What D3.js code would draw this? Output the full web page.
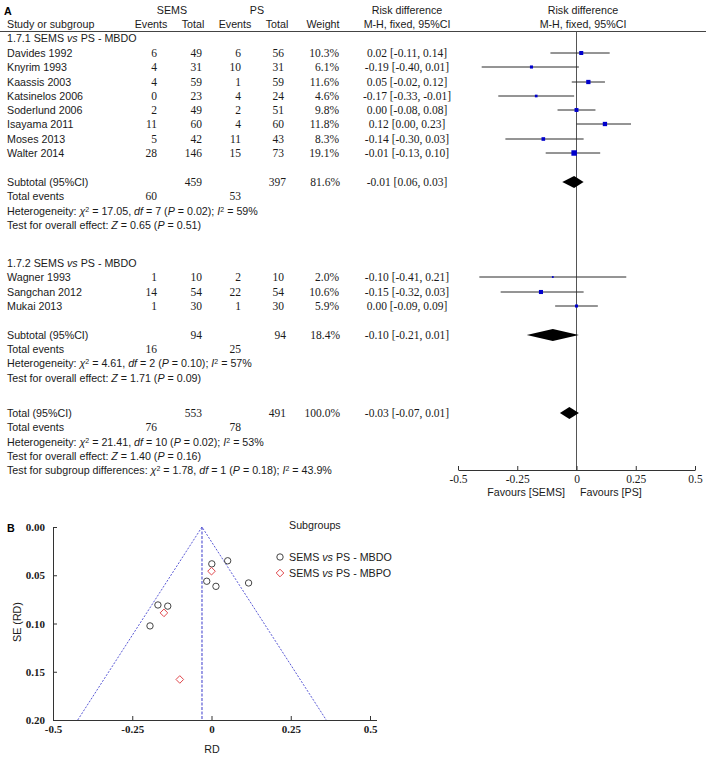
<!DOCTYPE html>
<html><head><meta charset="utf-8">
<script src="https://cdn.jsdelivr.net/npm/d3@7"></script>
<style>
body{margin:0;background:#fff}
svg{display:block}
.sans{font-family:"Liberation Sans",Arial,sans-serif;font-size:10.7px;fill:#1a1a1a}
.num{font-family:"Liberation Serif","Times New Roman",serif;font-size:11.5px;fill:#1a1a1a}
</style></head>
<body>
<svg id="c" width="708" height="758"></svg>
<script>
// ---------- DATA ----------
const studies1 = ["Davides 1992","Knyrim 1993","Kaassis 2003","Katsinelos 2006","Soderlund 2006","Isayama 2011","Moses 2013","Walter 2014"];
const semsEvents1 = [6,4,4,0,2,11,5,28];
const semsTotal1  = [49,31,59,23,49,60,42,146];
const psEvents1   = [6,10,1,4,2,4,11,15];
const psTotal1    = [56,31,59,24,51,60,43,73];
const weight1     = [10.3,6.1,11.6,4.6,9.8,11.8,8.3,19.1];
const rd1 = [0.02,-0.19,0.05,-0.17,0.00,0.12,-0.14,-0.01];
const lo1 = [-0.11,-0.40,-0.02,-0.33,-0.08,0.00,-0.30,-0.13];
const hi1 = [0.14,0.01,0.12,-0.01,0.08,0.23,0.03,0.10];

const studies2 = ["Wagner 1993","Sangchan 2012","Mukai 2013"];
const semsEvents2 = [1,14,1];
const semsTotal2  = [10,54,30];
const psEvents2   = [2,22,1];
const psTotal2    = [10,54,30];
const weight2     = [2.0,10.6,5.9];
const rd2 = [-0.10,-0.15,0.00];
const lo2 = [-0.41,-0.32,-0.09];
const hi2 = [0.21,0.03,0.09];

// subtotals: group1, group2, overall
const pooledLabels = ["Subtotal (95%CI)","Subtotal (95%CI)","Total (95%CI)"];
const pooledSemsTotal = [459,94,553];
const pooledPsTotal   = [397,94,491];
const pooledWeight    = ["81.6%","18.4%","100.0%"];
const pooledSemsEvents = [60,16,76];
const pooledPsEvents   = [53,25,78];
const pooledRD = [-0.01,-0.10,-0.03];
const pooledLo = [-0.06,-0.21,-0.07];
const pooledHi = [0.03,0.01,0.01];
const pooledText = ["-0.01 [0.06, 0.03]","-0.10 [-0.21, 0.01]","-0.03 [-0.07, 0.01]"];
const hetChi = ["17.05","4.61","21.41"];
const hetDf  = ["7","2","10"];
const hetP   = ["0.02","0.10","0.02"];
const hetI2  = ["59%","57%","53%"];
const zVal   = ["0.65","1.71","1.40"];
const zP     = ["0.51","0.09","0.16"];
const subgroupDiff = {chi:"1.78", df:"1", p:"0.18", i2:"43.9%"};

const forestTicks = [-0.5,-0.25,0,0.25,0.5];

// funnel plot
const funnelRD1 = [0.014,-0.194,0.051,-0.169,0.001,0.117,-0.138,-0.015];
const funnelSE1 = [0.0615,0.1025,0.035,0.0808,0.0382,0.058,0.082,0.0562];
const funnelRD2 = [-0.100,-0.150,0.000];
const funnelSE2 = [0.158,0.0890,0.0458];
const funnelPooled = -0.03;
const funnelXTicks = [-0.5,-0.25,0,0.25,0.5];
const funnelYTicks = [0,0.05,0.10,0.15,0.20];
const legendLabels = ["MBDO","MBPO"];

// ---------- DRAW ----------
const svg = d3.select("#c");
const fmtTick = d => d===0 ? "0" : String(d);

function rich(g, x, y, segs, anchor){
  const t = g.append("text").attr("class","sans").attr("x",x).attr("y",y);
  if(anchor) t.attr("text-anchor",anchor);
  segs.forEach(s=>{
    if(typeof s === "string"){ t.append("tspan").text(s); return; }
    const ts = t.append("tspan").text(s.t);
    if(s.i) ts.attr("font-style","italic");
    if(s.sup) ts.attr("font-size","7px").attr("baseline-shift","super");
  });
  return t;
}
function txt(cls,x,y,s,anchor,extra){
  const t = svg.append("text").attr("class",cls).attr("x",x).attr("y",y).text(s);
  if(anchor) t.attr("text-anchor",anchor);
  if(extra) extra(t);
  return t;
}

const B = 4; // baseline offset from visual centre
// column positions
const cEv1 = 157, cTo1 = 202, cEv2 = 241, cTo2 = 284, cW = 339, cRD = 407;
const x = d3.scaleLinear().domain([-0.5,0.5]).range([458,695]);
const sz = d3.scaleSqrt().domain([0,20]).range([0,5.6]);

// Header
txt("sans",4,15,"A",null,t=>t.attr("font-weight","bold").attr("font-size","12.5px").style("fill","#000"));
txt("sans",172,10+B,"SEMS","middle");
txt("sans",257,10+B,"PS","middle");
txt("sans",cRD,10+B,"Risk difference","middle");
txt("sans",583,10+B,"Risk difference","middle");
txt("sans",7,24+B,"Study or subgroup");
txt("sans",151,24+B,"Events","middle");
txt("sans",193,24+B,"Total","middle");
txt("sans",235,24+B,"Events","middle");
txt("sans",277,24+B,"Total","middle");
txt("sans",323,24+B,"Weight","middle");
txt("sans",cRD,24+B,"M-H, fixed, 95%CI","middle");
txt("sans",583,24+B,"M-H, fixed, 95%CI","middle");
svg.append("line").attr("x1",0).attr("x2",706).attr("y1",31.5).attr("y2",31.5).attr("stroke","#444").attr("stroke-width",1);

// zero line
svg.append("line").attr("x1",x(0)).attr("x2",x(0)).attr("y1",31.5).attr("y2",470).attr("stroke","#555").attr("stroke-width",1);

function groupHeader(y,label){
  rich(svg,7,y+B,[label+" SEMS ",{t:"vs",i:1}," PS - MBDO"]);
}
function studyRows(ys, names, e1,t1,e2,t2,w,rd,lo,hi){
  names.forEach((n,i)=>{
    const y = ys[i];
    txt("sans",7,y+B,n);
    txt("num",cEv1,y+B,e1[i],"end");
    txt("num",cTo1,y+B,t1[i],"end");
    txt("num",cEv2,y+B,e2[i],"end");
    txt("num",cTo2,y+B,t2[i],"end");
    txt("num",cW,y+B,w[i].toFixed(1)+"%","end");
    txt("num",cRD,y+B,`${rd[i].toFixed(2)} [${lo[i].toFixed(2)}, ${hi[i].toFixed(2)}]`,"middle");
    svg.append("line").attr("x1",x(lo[i])).attr("x2",x(hi[i])).attr("y1",y).attr("y2",y)
      .attr("stroke","#2a2a2a").attr("stroke-width",1);
    const s = sz(w[i]);
    svg.append("rect").attr("x",x(rd[i])-s/2).attr("y",y-s/2).attr("width",s).attr("height",s).attr("fill","#0000cc");
  });
}
function pooled(k, y){
  txt("sans",7,y+B,pooledLabels[k]);
  txt("num",cTo1,y+B,pooledSemsTotal[k],"end");
  txt("num",cTo2+2,y+B,pooledPsTotal[k],"end");
  txt("num",cW+1,y+B,pooledWeight[k],"end");
  txt("num",cRD,y+B,pooledText[k],"middle");
  const h = 6;
  svg.append("path").attr("d",`M${x(pooledLo[k])},${y}L${x(pooledRD[k])},${y-h}L${x(pooledHi[k])},${y}L${x(pooledRD[k])},${y+h}Z`).attr("fill","#000");
  txt("sans",7,y+14+B,"Total events");
  txt("num",cEv1,y+14+B,pooledSemsEvents[k],"end");
  txt("num",cEv2,y+14+B,pooledPsEvents[k],"end");
}
function hetLines(k, y1, y2){
  rich(svg,7,y1+B,["Heterogeneity: ",{t:"χ",i:1},{t:"2",sup:1}," = "+hetChi[k]+", ",{t:"df",i:1}," = "+hetDf[k]+" (",{t:"P",i:1}," = "+hetP[k]+"); ",{t:"I",i:1},{t:"2",sup:1}," = "+hetI2[k]]);
  rich(svg,7,y2+B,["Test for overall effect: ",{t:"Z",i:1}," = "+zVal[k]+" (",{t:"P",i:1}," = "+zP[k]+")"]);
}

groupHeader(38,"1.7.1");
studyRows([53,67,82,96,110,124,139,153],studies1,semsEvents1,semsTotal1,psEvents1,psTotal1,weight1,rd1,lo1,hi1);
pooled(0,182);
hetLines(0,211,225);

groupHeader(263,"1.7.2");
studyRows([277,292,306],studies2,semsEvents2,semsTotal2,psEvents2,psTotal2,weight2,rd2,lo2,hi2);
pooled(1,335);
hetLines(1,363,378);

pooled(2,413);
hetLines(2,442,456);
rich(svg,7,470+B,["Test for subgroup differences: ",{t:"χ",i:1},{t:"2",sup:1}," = "+subgroupDiff.chi+", ",{t:"df",i:1}," = "+subgroupDiff.df+" (",{t:"P",i:1}," = "+subgroupDiff.p+"); ",{t:"I",i:1},{t:"2",sup:1}," = "+subgroupDiff.i2]);

// forest axis
const fa = svg.append("g").attr("transform","translate(0,470)")
  .call(d3.axisBottom(x).tickValues(forestTicks).tickFormat(fmtTick).tickSizeInner(-4).tickSizeOuter(0).tickPadding(5));
fa.selectAll("path,line").attr("stroke","#333");
fa.selectAll("text").attr("class","num").attr("font-family",null).attr("font-size",null).style("fill","#1a1a1a");
txt("sans",565,492+B,"Favours [SEMS]","end");
txt("sans",580,492+B,"Favours [PS]","start");

// ---------- FUNNEL ----------
const xs = d3.scaleLinear().domain([-0.5,0.5]).range([53,370]);
const ys = d3.scaleLinear().domain([0,0.2]).range([527,720]);
txt("sans",7,532,"B",null,t=>t.attr("font-weight","bold").attr("font-size","12.5px").style("fill","#000"));

// funnel lines
const seMax = 0.2;
const fl = svg.append("g");
fl.append("path").attr("d",`M${xs(funnelPooled-1.96*seMax)},${ys(seMax)}L${xs(funnelPooled)},${ys(0)}L${xs(funnelPooled+1.96*seMax)},${ys(seMax)}`)
  .attr("fill","none").attr("stroke","#5a5ad6").attr("stroke-width",1).attr("stroke-dasharray","2,1.5");
fl.append("line").attr("x1",xs(funnelPooled)).attr("x2",xs(funnelPooled)).attr("y1",ys(0)).attr("y2",ys(seMax))
  .attr("stroke","#3b3bcc").attr("stroke-width",1).attr("stroke-dasharray","3,1.5");

const ya = svg.append("g").attr("transform","translate(53,0)")
  .call(d3.axisLeft(ys).tickValues(funnelYTicks).tickFormat(d3.format(".2f")).tickSizeInner(-4).tickSizeOuter(0).tickPadding(8));
const xa = svg.append("g").attr("transform","translate(0,720)")
  .call(d3.axisBottom(xs).tickValues(funnelXTicks).tickFormat(fmtTick).tickSizeInner(-4).tickSizeOuter(0).tickPadding(5));
svg.append("line").attr("x1",53).attr("x2",377).attr("y1",720.5).attr("y2",720.5).attr("stroke","#333");
[ya,xa].forEach(a=>{
  a.selectAll("path,line").attr("stroke","#333");
  a.selectAll("text").attr("font-family","Liberation Serif, serif").attr("font-size","11px").style("fill","#1a1a1a").style("font-weight","bold");
});
txt("sans",212,749+B,"RD","middle");
txt("sans",0,0,"SE (RD)","middle",t=>t.attr("transform","translate(21,622) rotate(-90)"));

// points
svg.append("g").selectAll("circle").data(funnelRD1.map((d,i)=>[d,funnelSE1[i]])).join("circle")
  .attr("cx",d=>xs(d[0])).attr("cy",d=>ys(d[1])).attr("r",3.2)
  .attr("fill","none").attr("stroke","#444").attr("stroke-width",1);
const dia = (cx,cy,r)=>`M${cx},${cy-r}L${cx+r},${cy}L${cx},${cy+r}L${cx-r},${cy}Z`;
svg.append("g").selectAll("path").data(funnelRD2.map((d,i)=>[d,funnelSE2[i]])).join("path")
  .attr("d",d=>dia(xs(d[0]),ys(d[1]),3.8))
  .attr("fill","none").attr("stroke","#e0474c").attr("stroke-width",1);

// legend
txt("sans",289,525+B,"Subgroups");
svg.append("circle").attr("cx",280).attr("cy",557).attr("r",3.2).attr("fill","none").attr("stroke","#444");
rich(svg,289,557+B,["SEMS ",{t:"vs",i:1}," PS - "+legendLabels[0]]);
svg.append("path").attr("d",dia(280,573,3.8)).attr("fill","none").attr("stroke","#e0474c");
rich(svg,289,573+B,["SEMS ",{t:"vs",i:1}," PS - "+legendLabels[1]]);
</script>
</body></html>
